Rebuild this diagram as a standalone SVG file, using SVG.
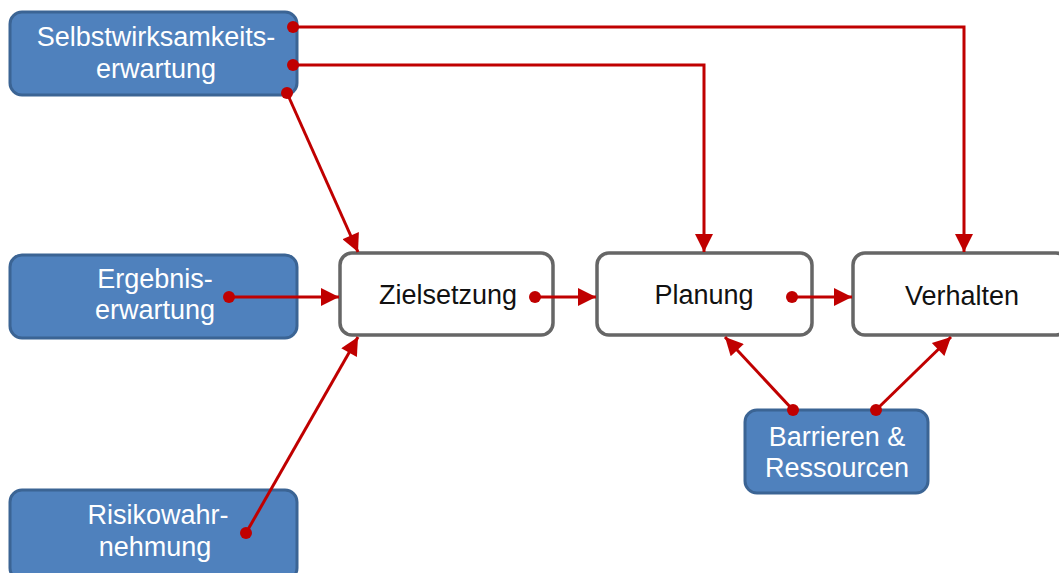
<svg xmlns="http://www.w3.org/2000/svg" width="1059" height="573" viewBox="0 0 1059 573">
<defs>
<marker id="arr" viewBox="0 0 10 10" refX="10" refY="5" markerWidth="7.5" markerHeight="6" markerUnits="strokeWidth" orient="auto">
<path d="M0,0 L10,5 L0,10 z" fill="#C00000"/>
</marker>
<style>
.blue{fill:#4F81BD;stroke:#3B6494;stroke-width:3}
.white{fill:#FFFFFF;stroke:#666666;stroke-width:3.5}
.tw{font-family:"Liberation Sans",Arial,sans-serif;font-size:27px;fill:#FFFFFF;text-anchor:middle}
.tb{font-family:"Liberation Sans",Arial,sans-serif;font-size:27px;fill:#111111;text-anchor:middle}
.c{fill:none;stroke:#C00000;stroke-width:3;marker-end:url(#arr)}
.d{fill:#C00000}
</style>
</defs>
<rect width="1059" height="573" fill="#FFFFFF"/>
<g id="selbst"><rect class="blue" x="10" y="12" width="287" height="83" rx="12"/><text class="tw" x="156" y="46">Selbstwirksamkeits-</text><text class="tw" x="156" y="78">erwartung</text></g>
<g id="ergebnis"><rect class="blue" x="10" y="255" width="287" height="83" rx="12"/><text class="tw" x="155" y="288">Ergebnis-</text><text class="tw" x="155" y="319">erwartung</text></g>
<g id="risiko"><rect class="blue" x="10" y="490" width="287" height="90" rx="12"/><text class="tw" x="158" y="524">Risikowahr-</text><text class="tw" x="155" y="556">nehmung</text></g>
<g id="ziel"><rect class="white" x="340" y="253" width="213" height="82" rx="12"/><text class="tb" x="448" y="304">Zielsetzung</text></g>
<g id="planung"><rect class="white" x="597" y="253" width="215" height="82" rx="12"/><text class="tb" x="704" y="304">Planung</text></g>
<g id="verhalten"><rect class="white" x="853" y="253" width="215" height="82" rx="12"/><text class="tb" x="962" y="305">Verhalten</text></g>
<g id="barrieren"><rect class="blue" x="745" y="410" width="183" height="83" rx="12"/><text class="tw" x="837" y="446">Barrieren &amp;</text><text class="tw" x="837" y="477">Ressourcen</text></g>
<g id="connectors">
<path class="c" d="M293,27 H964 V252"/>
<path class="c" d="M293,65 H704 V252"/>
<path class="c" d="M287,93 L358,252"/>
<path class="c" d="M229,297 H339"/>
<path class="c" d="M246,533 L358,337"/>
<path class="c" d="M535,297 H596"/>
<path class="c" d="M792,297 H852"/>
<path class="c" d="M793,410 L725,337"/>
<path class="c" d="M876,410 L951,337"/>
<circle class="d" cx="293" cy="27" r="6"/>
<circle class="d" cx="293" cy="65" r="6"/>
<circle class="d" cx="287" cy="93" r="6"/>
<circle class="d" cx="229" cy="297" r="6"/>
<circle class="d" cx="246" cy="533" r="6"/>
<circle class="d" cx="535" cy="297" r="6"/>
<circle class="d" cx="792" cy="297" r="6"/>
<circle class="d" cx="793" cy="410" r="6"/>
<circle class="d" cx="876" cy="410" r="6"/>
</g>
</svg>
